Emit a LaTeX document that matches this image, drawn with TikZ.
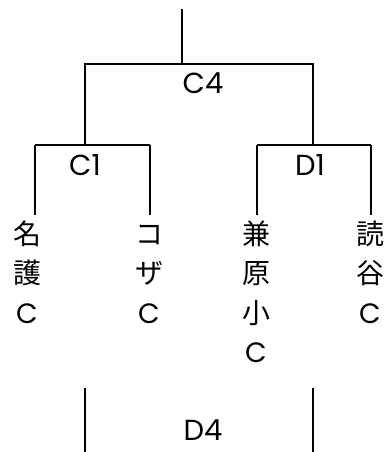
\documentclass[tikz,border=0pt]{standalone}
\usepackage{fontspec}
\setmainfont{Poppins}
\newfontfamily\jp{Noto Sans CJK JP}
\newcommand\kj[1]{{\jp\vphantom{名}#1}}
\usetikzlibrary{positioning}

\begin{document}
\begin{tikzpicture}[x=1pt,y=-1pt,line width=1.5pt,
    lbl/.style={inner sep=0pt,font=\fontsize{29}{30}\selectfont},
    leaf/.style={align=center,inner sep=0pt,font=\fontsize{28}{39.5}\selectfont}]
\useasboundingbox (0,0) rectangle (391,452);
% upper bracket
\coordinate (root) at (182,9);
\coordinate (rootb) at (182,64);
\coordinate (c4l) at (85,64);
\coordinate (c4r) at (313,64);
\coordinate (c1m) at (85,145);
\coordinate (d1m) at (313,145);
\coordinate (c1l) at (35,145);
\coordinate (c1r) at (150,145);
\coordinate (d1l) at (257,145);
\coordinate (d1r) at (371,145);
\draw (root) -- (rootb);
\draw (c1m) -- (c4l) -- (c4r) -- (d1m);
\draw (c1l) -- (c1r);
\draw (d1l) -- (d1r);
\node[lbl] (c4) at (203,83) {C4};
\node[lbl] (c1) at (85,165) {C1};
\node[lbl] (d1) at (310,165) {D1};
% teams
\coordinate (nagot) at (35,215);
\coordinate (kozat) at (150,215);
\coordinate (kanet) at (257,215);
\coordinate (yomit) at (371,215);
\node[leaf,anchor=north] (nago) at (27,220) {\kj{名}\\\kj{護}\\C};
\node[leaf,anchor=north] (koza) at (149,220) {\kj{コ}\\\kj{ザ}\\C};
\node[leaf,anchor=north] (kane) at (256,220) {\kj{兼}\\\kj{原}\\\kj{小}\\C};
\node[leaf,anchor=north] (yomi) at (370,220) {\kj{読}\\\kj{谷}\\C};
\draw (c1l) -- (nagot);
\draw (c1r) -- (kozat);
\draw (d1l) -- (kanet);
\draw (d1r) -- (yomit);
% lower bracket
\coordinate (d4lt) at (85,388);
\coordinate (d4lb) at (85,452);
\coordinate (d4rt) at (313,388);
\coordinate (d4rb) at (313,452);
\draw (d4lt) -- (d4lb);
\draw (d4rt) -- (d4rb);
\node[lbl] (d4) at (203,430) {D4};
\end{tikzpicture}
\end{document}
